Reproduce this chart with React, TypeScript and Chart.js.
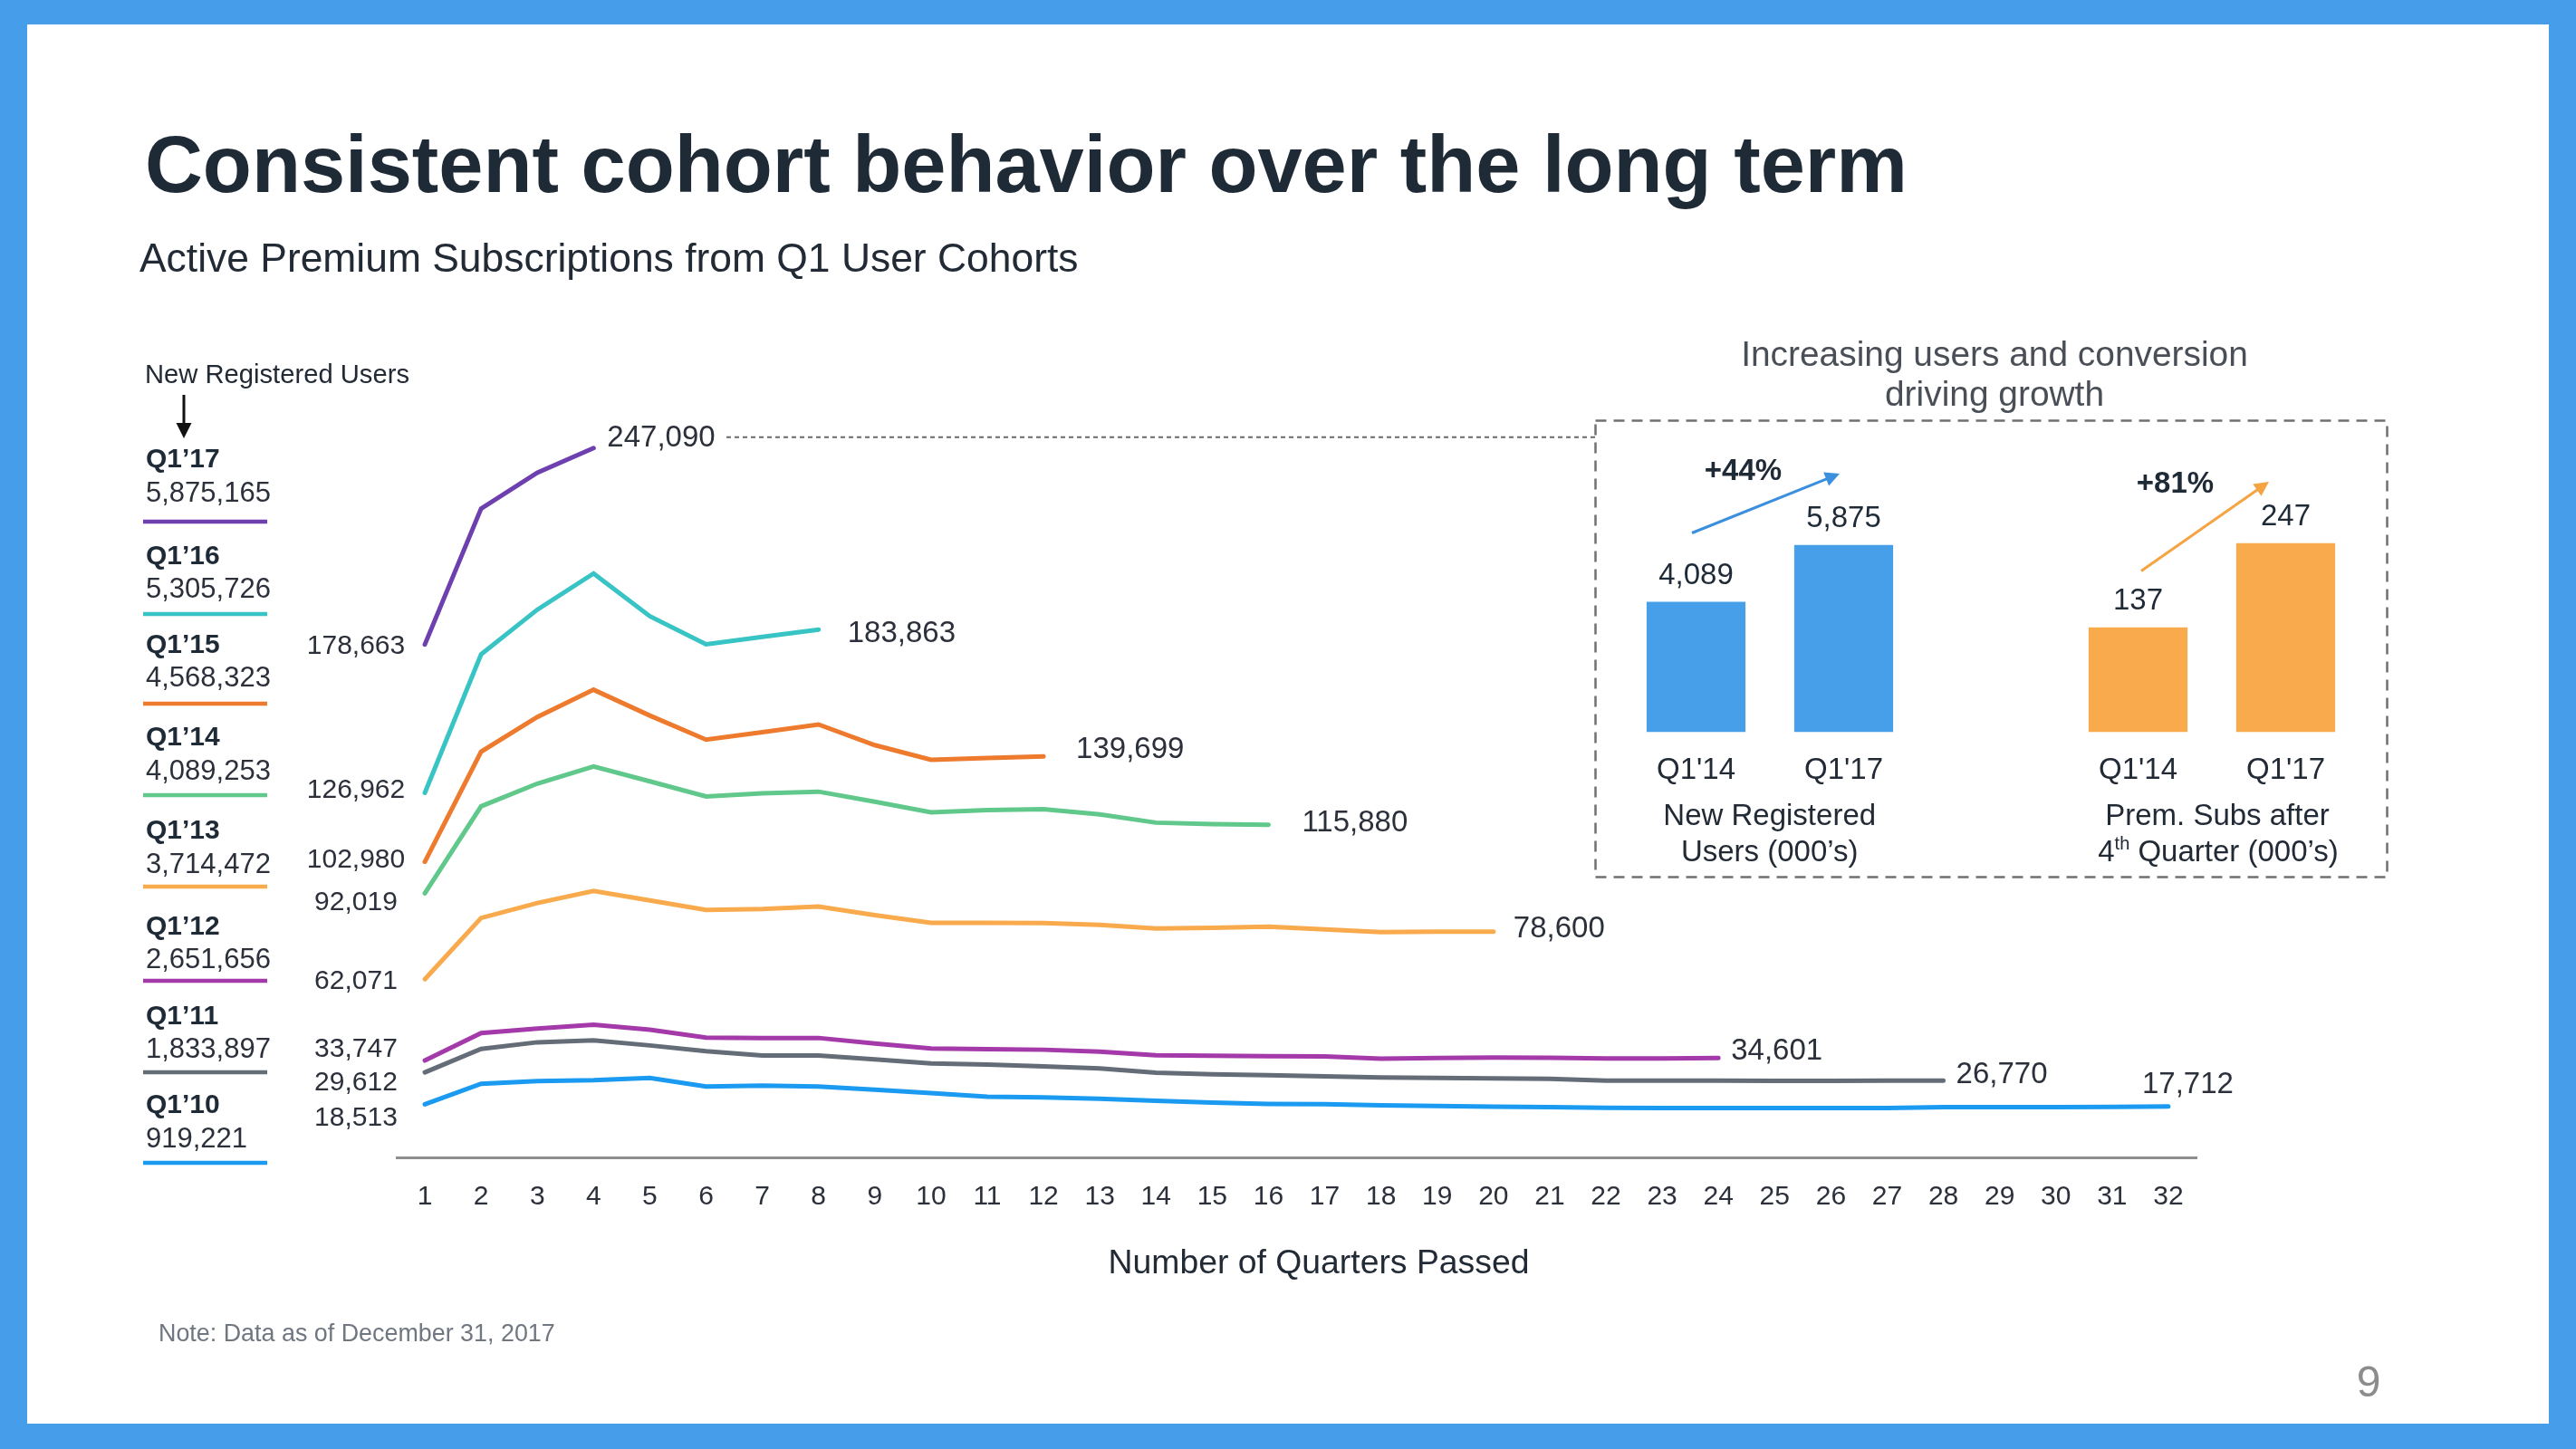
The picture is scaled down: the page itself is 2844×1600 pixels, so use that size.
import React, { useEffect, useRef } from "react";
import { Chart, registerables } from "chart.js";

Chart.register(...registerables);

// ---------- DATA ----------
const quarterLabels = ["1","2","3","4","5","6","7","8","9","10","11","12","13","14","15","16","17","18","19","20","21","22","23","24","25","26","27","28","29","30","31","32"];

const cohortNames = ["Q1\u201917", "Q1\u201916", "Q1\u201915", "Q1\u201914", "Q1\u201913", "Q1\u201912", "Q1\u201911", "Q1\u201910"];
const newRegisteredUsers = [5875165, 5305726, 4568323, 4089253, 3714472, 2651656, 1833897, 919221];

const q117 = [178663, 226000, 238500, 247090];
const q116 = [126962, 175200, 190800, 203400, 188500, 178700, 181300, 183863];
const q115 = [102980, 141300, 153400, 162900, 153900, 145500, 148100, 150800, 143600, 138500, 139100, 139699];
const q114 = [92019, 122300, 130200, 136200, 131000, 125700, 126800, 127400, 123900, 120200, 121000, 121300, 119500, 116600, 116100, 115880];
const q113 = [62071, 83400, 88600, 92800, 89500, 86200, 86500, 87400, 84400, 81700, 81700, 81600, 81000, 79700, 80000, 80400, 79400, 78500, 78600, 78600];
const q112 = [33747, 43300, 44900, 46200, 44500, 41700, 41600, 41600, 39700, 37900, 37700, 37500, 36800, 35600, 35400, 35250, 35150, 34400, 34600, 34800, 34700, 34500, 34500, 34601];
const q111 = [29612, 37800, 40100, 40800, 39000, 37000, 35500, 35500, 34150, 32700, 32300, 31700, 31000, 29500, 28950, 28650, 28200, 27800, 27700, 27500, 27400, 26750, 26750, 26750, 26650, 26650, 26750, 26770];
const q110 = [18513, 25650, 26600, 26900, 27650, 24700, 25000, 24700, 23550, 22400, 21150, 20900, 20400, 19700, 19100, 18650, 18550, 18150, 17900, 17700, 17500, 17300, 17200, 17200, 17200, 17200, 17200, 17500, 17500, 17500, 17600, 17712];

const cohortSeries = [q117, q116, q115, q114, q113, q112, q111, q110];
const cohortColors = ["#6E3FAE", "#38C4C4", "#EE7A2E", "#60C88A", "#F8AA4C", "#A43AAA", "#646D77", "#1A9AF0"];

// inset
const insetCategories = ["Q1'14", "Q1'17"];
const insetUsersK = [4089, 5875];
const insetPremSubsK = [137, 247];
const insetGrowth = ["+44%", "+81%"];

// ---------- STYLE / LAYOUT ----------
const FONT = '"Liberation Sans", Arial, Helvetica, sans-serif';
const TEXT = "#222a35";
const FRAME = "#469EEA";
const BAR_BLUE = "#479FE9";
const BAR_ORANGE = "#F8AA4C";

const legendBaselines = [516, 622.7, 720.7, 823.3, 926, 1031.7, 1130.7, 1229];
const legendUnderlines = [576, 678, 777, 878, 979, 1083, 1184, 1284];
const startLabelDy = [0, -5, -4, 8, 0, -15, 9, 13];
const endLabelDx = [15, 32, 36, 37, 22, 14, 14, -29];
const endLabelDy = [-13, 2, -10, -4, -5, -10, -9, -26];

const fmt = (v: number) => v.toLocaleString("en-US");

function drawText(
  ctx: CanvasRenderingContext2D,
  text: string,
  x: number,
  y: number,
  size: number,
  color: string,
  align: CanvasTextAlign = "left",
  bold = false,
  fitWidth?: number
) {
  ctx.save();
  let s = size;
  ctx.font = `${bold ? "bold " : ""}${s}px ${FONT}`;
  if (fitWidth) {
    const w = ctx.measureText(text).width;
    s = (s * fitWidth) / w;
    ctx.font = `${bold ? "bold " : ""}${s}px ${FONT}`;
  }
  ctx.fillStyle = color;
  ctx.textAlign = align;
  ctx.textBaseline = "alphabetic";
  ctx.fillText(text, x, y);
  ctx.restore();
  return s;
}

function arrow(ctx: CanvasRenderingContext2D, x1: number, y1: number, x2: number, y2: number, color: string, w: number, head: number) {
  ctx.save();
  const a = Math.atan2(y2 - y1, x2 - x1);
  ctx.strokeStyle = color;
  ctx.fillStyle = color;
  ctx.lineWidth = w;
  ctx.beginPath();
  ctx.moveTo(x1, y1);
  ctx.lineTo(x2 - Math.cos(a) * head * 0.8, y2 - Math.sin(a) * head * 0.8);
  ctx.stroke();
  ctx.beginPath();
  ctx.moveTo(x2, y2);
  ctx.lineTo(x2 - head * Math.cos(a) + (head * 0.5) * Math.sin(a), y2 - head * Math.sin(a) - (head * 0.5) * Math.cos(a));
  ctx.lineTo(x2 - head * Math.cos(a) - (head * 0.5) * Math.sin(a), y2 - head * Math.sin(a) + (head * 0.5) * Math.cos(a));
  ctx.closePath();
  ctx.fill();
  ctx.restore();
}

const slidePlugin = {
  id: "slideDecor",
  beforeDraw(chart: any) {
    const { ctx, width, height } = chart;
    ctx.save();
    ctx.fillStyle = FRAME;
    ctx.fillRect(0, 0, width, height);
    ctx.fillStyle = "#ffffff";
    ctx.fillRect(30, 27, 2814 - 30, 1572 - 27);
    ctx.restore();
  },
  afterDraw(chart: any) {
    const ctx: CanvasRenderingContext2D = chart.ctx;
    const xs = chart.scales.x;
    const ys = chart.scales.y;

    // title + subtitle
    drawText(ctx, "Consistent cohort behavior over the long term", 160, 212, 91, "#1f2a37", "left", true, 1946);
    drawText(ctx, "Active Premium Subscriptions from Q1 User Cohorts", 154, 300, 42, TEXT, "left", false, 1037);

    // legend header
    drawText(ctx, "New Registered Users", 160, 423, 29, TEXT, "left", false, 292);
    arrow(ctx, 203, 436, 203, 484, "#111", 3, 17);

    // legend entries
    cohortNames.forEach((name, i) => {
      const base = legendBaselines[i];
      drawText(ctx, name, 161, base, 30, "#1f2a37", "left", true);
      drawText(ctx, fmt(newRegisteredUsers[i]), 161, base + 37.5, 31, "#2b303a", "left", false);
      ctx.save();
      ctx.strokeStyle = cohortColors[i];
      ctx.lineWidth = 4.5;
      ctx.beginPath();
      ctx.moveTo(158, legendUnderlines[i]);
      ctx.lineTo(295, legendUnderlines[i]);
      ctx.stroke();
      ctx.restore();
    });

    // start / end labels
    cohortSeries.forEach((series, i) => {
      const y0 = ys.getPixelForValue(series[0]);
      drawText(ctx, fmt(series[0]), 393, y0 + startLabelDy[i] + 10.5, 30, "#2b303a", "center");
      const last = series.length - 1;
      const xe = xs.getPixelForValue(last);
      const ye = ys.getPixelForValue(series[last]);
      drawText(ctx, fmt(series[last]), xe + endLabelDx[i], ye + endLabelDy[i] + 11.5, 33, "#2b303a", "left");
    });

    // dotted connector from 247,090 to inset box
    const ye0 = ys.getPixelForValue(q117[q117.length - 1]) - 12;
    ctx.save();
    ctx.strokeStyle = "#6a6a6a";
    ctx.lineWidth = 2;
    ctx.setLineDash([5, 4]);
    ctx.beginPath();
    ctx.moveTo(802, ye0);
    ctx.lineTo(1761, ye0);
    ctx.stroke();
    // inset box
    ctx.setLineDash([12, 8]);
    ctx.lineWidth = 2.5;
    ctx.strokeStyle = "#707070";
    ctx.strokeRect(1761.5, 464.5, 874, 504);
    ctx.restore();

    // inset header
    const hs = drawText(ctx, "Increasing users and conversion", 2202, 404, 34, "#4a4f57", "center", false, 560);
    drawText(ctx, "driving growth", 2202, 448, hs, "#4a4f57", "center");

    // growth arrows
    arrow(ctx, 1868, 588.5, 2031, 523, "#3A8FDE", 3, 16);
    arrow(ctx, 2364, 630.5, 2505, 532, "#F5A443", 3, 16);
    drawText(ctx, insetGrowth[0], 1924.5, 530, 33, "#1f2a37", "center", true);
    drawText(ctx, insetGrowth[1], 2401.5, 544, 33, "#1f2a37", "center", true);

    // inset group captions
    drawText(ctx, "New Registered", 1953.7, 911, 33, TEXT, "center");
    drawText(ctx, "Users (000\u2019s)", 1953.7, 951, 33, TEXT, "center");
    drawText(ctx, "Prem. Subs after", 2448, 911, 33, TEXT, "center");
    {
      ctx.save();
      const big = `33px ${FONT}`;
      const small = `20px ${FONT}`;
      ctx.font = big;
      const w4 = ctx.measureText("4").width;
      const wRest = ctx.measureText(" Quarter (000\u2019s)").width;
      ctx.font = small;
      const wth = ctx.measureText("th").width;
      const total = w4 + wth + wRest;
      let x = 2449 - total / 2;
      ctx.fillStyle = TEXT;
      ctx.textBaseline = "alphabetic";
      ctx.textAlign = "left";
      ctx.font = big;
      ctx.fillText("4", x, 951);
      x += w4;
      ctx.font = small;
      ctx.fillText("th", x, 938);
      x += wth;
      ctx.font = big;
      ctx.fillText(" Quarter (000\u2019s)", x, 951);
      ctx.restore();
    }

    // axis title, note, page number
    drawText(ctx, "Number of Quarters Passed", 1456, 1406, 37, TEXT, "center", false, 465);
    drawText(ctx, "Note: Data as of December 31, 2017", 175, 1481, 27, "#707780", "left", false, 438);
    drawText(ctx, "9", 2615, 1542, 48, "#8c8c8c", "center");
  },
};

const barLabelPlugin = {
  id: "barValueLabels",
  afterDatasetsDraw(chart: any) {
    const ctx: CanvasRenderingContext2D = chart.ctx;
    const meta = chart.getDatasetMeta(0);
    const values = chart.data.datasets[0].data as number[];
    meta.data.forEach((bar: any, i: number) => {
      drawText(ctx, fmt(values[i]), bar.x, bar.y - 20, 33, "#1f2a37", "center");
    });
  },
};

function makeBarChart(canvas: HTMLCanvasElement, values: number[], color: string, max: number) {
  return new Chart(canvas, {
    type: "bar",
    data: {
      labels: insetCategories,
      datasets: [
        {
          data: values,
          backgroundColor: color,
          borderWidth: 0,
          barPercentage: 0.67,
          categoryPercentage: 1,
        },
      ],
    },
    options: {
      responsive: false,
      devicePixelRatio: 1,
      animation: false,
      layout: { padding: { top: 22, left: 0, right: 0, bottom: 0 } },
      plugins: { legend: { display: false }, tooltip: { enabled: false }, title: { display: false } },
      scales: {
        x: {
          grid: { display: false, drawTicks: false },
          border: { display: false },
          ticks: { font: { family: FONT, size: 33 }, color: TEXT, padding: 23 },
          afterFit: (s: any) => {
            s.height = 71.4;
          },
        },
        y: { display: false, min: 0, max },
      },
    },
    plugins: [barLabelPlugin],
  } as any);
}

export default function App() {
  const mainRef = useRef<HTMLCanvasElement>(null);
  const bar1Ref = useRef<HTMLCanvasElement>(null);
  const bar2Ref = useRef<HTMLCanvasElement>(null);

  useEffect(() => {
    if (!mainRef.current || !bar1Ref.current || !bar2Ref.current) return;
    const main = new Chart(mainRef.current, {
      type: "line",
      data: {
        labels: quarterLabels,
        datasets: cohortSeries.map((s, i) => ({
          label: cohortNames[i],
          data: s,
          borderColor: cohortColors[i],
          backgroundColor: cohortColors[i],
          borderWidth: 5,
          pointRadius: 0,
          tension: 0,
          fill: false,
          clip: false,
          borderCapStyle: "round",
        })),
      },
      options: {
        responsive: false,
        devicePixelRatio: 1,
        animation: false,
        layout: { padding: { left: 438, right: 419, top: 485.5, bottom: 222 } },
        plugins: { legend: { display: false }, tooltip: { enabled: false }, title: { display: false } },
        scales: {
          x: {
            type: "category",
            offset: true,
            grid: { display: false, drawTicks: false },
            border: { display: true, color: "#8e8e8e", width: 3 },
            ticks: { font: { family: FONT, size: 30 }, color: "#2b303a", padding: 26, autoSkip: false, maxRotation: 0 },
            afterFit: (s: any) => {
              s.height = 100;
            },
          },
          y: { display: false, min: 0, max: 250000 },
        },
      },
      plugins: [slidePlugin],
    } as any);
    const b1 = makeBarChart(bar1Ref.current, insetUsersK, BAR_BLUE, 7000);
    const b2 = makeBarChart(bar2Ref.current, insetPremSubsK, BAR_ORANGE, 291.8);
    return () => {
      main.destroy();
      b1.destroy();
      b2.destroy();
    };
  }, []);

  return (
    <div style={{ position: "fixed", left: 0, top: 0, width: 2844, height: 1600, background: "#fff", overflow: "hidden" }}>
      <canvas ref={mainRef} width={2844} height={1600} style={{ position: "absolute", left: 0, top: 0 }} />
      <canvas ref={bar1Ref} width={326} height={340} style={{ position: "absolute", left: 1791, top: 540 }} />
      <canvas ref={bar2Ref} width={326} height={340} style={{ position: "absolute", left: 2279, top: 540 }} />
    </div>
  );
}
